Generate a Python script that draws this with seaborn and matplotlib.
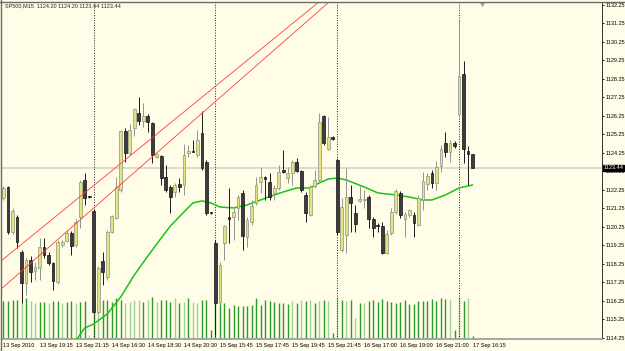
import matplotlib
matplotlib.use("Agg")
import matplotlib.pyplot as plt
import matplotlib.transforms as mtransforms
from matplotlib.lines import Line2D
import numpy as np
import pandas as pd
import seaborn as sns

# SP500 M15 bars, 13 Sep 17:15 .. 17 Sep 16:15
symbol = "SP500,M15"

opens = [1121.82, 1122.41, 1119.98, 1120.79, 1118.90, 1117.22, 1118.47, 1117.87, 1118.03, 1119.17,
         1118.74, 1118.30, 1117.28, 1119.28, 1119.49, 1119.93, 1119.28, 1120.79, 1122.79, 1121.88,
         1121.12, 1115.66, 1118.41, 1117.55, 1119.98, 1120.74, 1122.25, 1125.44, 1124.25, 1125.60,
         1126.41, 1125.98, 1126.25, 1125.87, 1124.03, 1124.09, 1122.95, 1122.41, 1122.14, 1122.57,
         1122.52, 1124.25, 1124.36, 1124.14, 1125.33, 1123.76, 1121.03, 1119.39, 1116.20, 1119.39,
         1120.79, 1120.79, 1121.28, 1122.09, 1119.71, 1120.52, 1121.55, 1122.68, 1122.95, 1122.68,
         1122.09, 1122.36, 1123.33, 1122.90, 1123.17, 1123.76, 1123.28, 1121.98, 1120.90, 1122.47,
         1122.79, 1126.25, 1124.47, 1125.11, 1123.87, 1119.01, 1119.82, 1121.87, 1121.01, 1121.66,
         1121.69, 1121.87, 1120.68, 1120.36, 1120.30, 1118.84, 1119.93, 1121.06, 1122.09, 1120.68,
         1120.90, 1120.90, 1120.36, 1121.71, 1122.57, 1123.17, 1122.63, 1123.55, 1124.79, 1124.30,
         1124.79, 1126.36, 1128.52, 1124.36, 1124.20]
highs = [1122.47, 1122.47, 1121.28, 1120.90, 1119.01, 1118.57, 1118.68, 1118.36, 1119.66, 1119.66,
         1118.90, 1118.36, 1119.55, 1119.55, 1120.09, 1120.03, 1120.68, 1122.79, 1123.17, 1121.93,
         1121.22, 1118.14, 1118.90, 1120.09, 1120.90, 1122.95, 1125.49, 1125.60, 1125.82, 1126.68,
         1127.28, 1126.95, 1126.36, 1125.93, 1124.25, 1124.14, 1123.60, 1122.52, 1122.63, 1122.90,
         1124.74, 1124.68, 1124.95, 1125.49, 1126.52, 1123.87, 1121.06, 1119.55, 1118.36, 1120.36,
         1122.36, 1121.28, 1121.98, 1122.25, 1120.79, 1121.71, 1122.95, 1123.49, 1123.01, 1123.17,
         1122.52, 1123.60, 1124.41, 1123.49, 1123.87, 1123.98, 1123.33, 1122.14, 1122.52, 1123.33,
         1126.41, 1126.30, 1126.20, 1125.17, 1123.98, 1121.82, 1123.44, 1122.52, 1121.44, 1122.47,
         1122.25, 1121.98, 1120.79, 1120.47, 1120.52, 1120.09, 1121.28, 1122.30, 1122.20, 1121.06,
         1121.22, 1121.06, 1121.98, 1123.22, 1123.17, 1123.33, 1123.82, 1124.68, 1125.39, 1124.95,
         1124.90, 1131.44, 1129.22, 1124.63, 1124.20]
lows = [1121.71, 1119.87, 1119.87, 1119.11, 1116.14, 1116.57, 1117.28, 1117.38, 1117.38, 1118.57,
        1118.20, 1116.84, 1117.17, 1119.17, 1119.44, 1118.74, 1119.17, 1120.20, 1121.44, 1121.82,
        1115.60, 1115.55, 1117.12, 1117.38, 1119.93, 1120.68, 1122.14, 1123.76, 1124.14, 1125.17,
        1125.76, 1125.66, 1125.39, 1123.71, 1123.98, 1122.52, 1122.14, 1121.01, 1121.87, 1122.14,
        1121.98, 1124.03, 1124.30, 1124.03, 1123.33, 1120.90, 1120.97, 1114.41, 1116.03, 1118.47,
        1119.39, 1119.55, 1120.63, 1119.01, 1119.17, 1120.36, 1121.44, 1122.09, 1121.71, 1121.71,
        1121.71, 1122.25, 1123.17, 1122.63, 1122.52, 1123.22, 1122.14, 1120.52, 1120.84, 1122.36,
        1122.68, 1124.68, 1124.41, 1124.95, 1119.82, 1118.90, 1118.84, 1119.98, 1119.98, 1121.60,
        1121.28, 1120.20, 1119.71, 1119.98, 1118.79, 1118.79, 1119.82, 1120.95, 1120.74, 1119.71,
        1120.79, 1119.71, 1120.30, 1121.17, 1122.25, 1122.36, 1122.25, 1123.22, 1124.03, 1123.76,
        1124.52, 1126.25, 1123.71, 1122.52, 1123.44]
closes = [1122.36, 1119.98, 1121.12, 1119.44, 1117.22, 1118.47, 1117.82, 1118.09, 1119.17, 1118.74,
          1118.30, 1117.33, 1119.44, 1119.44, 1119.93, 1119.22, 1120.52, 1122.68, 1121.82, 1121.85,
          1115.66, 1118.03, 1117.82, 1119.98, 1120.84, 1122.41, 1125.44, 1124.25, 1125.49, 1126.63,
          1125.98, 1126.25, 1125.93, 1124.14, 1124.20, 1122.90, 1122.25, 1121.87, 1122.52, 1122.41,
          1124.14, 1124.36, 1124.28, 1124.95, 1123.44, 1121.01, 1121.00, 1116.14, 1118.20, 1120.30,
          1120.68, 1121.06, 1121.87, 1119.76, 1120.63, 1121.39, 1122.52, 1122.95, 1122.84, 1121.87,
          1122.36, 1123.22, 1123.22, 1123.17, 1123.76, 1123.28, 1122.25, 1121.01, 1122.41, 1122.79,
          1125.93, 1124.79, 1125.11, 1125.01, 1119.98, 1121.33, 1121.87, 1121.55, 1120.41, 1121.76,
          1121.77, 1120.68, 1120.20, 1120.30, 1118.84, 1119.87, 1121.06, 1122.20, 1120.90, 1120.95,
          1121.17, 1120.47, 1121.82, 1122.74, 1123.01, 1122.63, 1123.49, 1124.47, 1124.30, 1124.79,
          1124.63, 1128.41, 1124.47, 1124.20, 1123.44]

volumes = [380, 380, 390, 390, 360, 410, 380, 360, 370, 370,
           360, 380, 380, 360, 370, 380, 360, 370, 380, 40,
           380, 360, 390, 390, 370, 410, 390, 360, 370, 390,
           390, 370, 390, 420, 370, 390, 390, 370, 410, 360,
           370, 410, 370, 360, 390, 390, 90, 390, 370, 360,
           310, 340, 330, 330, 330, 340, 410, 340, 390, 380,
           370, 360, 360, 350, 380, 360, 390, 380, 390, 360,
           380, 390, 380, 60, 420, 390, 380, 390, 210, 360,
           360, 380, 390, 370, 400, 380, 370, 360, 370, 390,
           350, 350, 380, 380, 380, 400, 380, 410, 400, 400,
           90, 420, 380, 410, 30]
# d = dark green volume bar, l = light green volume bar
volume_shade = ("ddddldllddlddlddlddld"
                "ldddddlllldldldddldldllddd"
                "ddddddddddddddddd" "ldldldldld"
                "ldldldl" "dddddddddddddddddd" "ld"
                "ldld")

# moving average line, read at these bar numbers
ma_bars = [16, 18, 20, 23, 26, 29, 32, 35, 37, 40, 42, 44, 46, 48, 51, 54, 57,
           60, 62, 65, 68, 70, 72, 74, 76, 80, 83, 87, 90, 93, 95, 98, 101, 104]
ma_values = [1114.10, 1114.79, 1115.01, 1115.55, 1116.47, 1117.65, 1118.68, 1119.66, 1120.30,
             1121.06, 1121.55, 1121.66, 1121.55, 1121.33, 1121.28, 1121.44, 1121.71, 1121.98,
             1122.14, 1122.36, 1122.36, 1122.63, 1122.84, 1122.90, 1122.79, 1122.41, 1122.09,
             1121.98, 1121.87, 1121.71, 1121.71, 1121.98, 1122.36, 1122.52]

# trendlines: two anchor points (bar, price)
trend_upper = [(0, 1118.52), (60, 1130.44)]
trend_lower = [(0, 1117.01), (60, 1129.81)]

day_starts = [20, 47, 74, 101]

time_tick_bars = [0, 8, 16, 24, 32, 40, 48, 56, 64, 72, 80, 88, 96, 104]
time_tick_labels = ["13 Sep 2010", "13 Sep 19:15", "13 Sep 21:15", "14 Sep 16:30",
                    "14 Sep 18:30", "14 Sep 20:30", "15 Sep 15:45", "15 Sep 17:45",
                    "15 Sep 19:45", "15 Sep 21:45", "16 Sep 17:00", "16 Sep 19:00",
                    "16 Sep 21:00", "17 Sep 16:15"]
price_ticks = [1114.25, 1115.25, 1116.25, 1117.25, 1118.25, 1119.25, 1120.25, 1121.25,
               1122.25, 1123.25, 1124.25, 1125.25, 1126.25, 1127.25, 1128.25, 1129.25,
               1130.25, 1131.25, 1132.25]

bg = "#fffce8"
sns.set_style("white", rc={"axes.facecolor": bg, "figure.facecolor": bg})
plt.rcParams['font.family'] = ['Liberation Sans', 'DejaVu Sans']

W, H = 625, 351
fig = plt.figure(figsize=(W / 100, H / 100), dpi=100)
ax = fig.add_axes([2 / W, (H - 339) / H, 600 / W, 337 / H])

df = pd.DataFrame({"open": opens, "high": highs, "low": lows, "close": closes,
                   "vol": volumes, "shade": list(volume_shade)})
df["x"] = np.arange(len(df))
df["bull"] = df["close"] >= df["open"]
n = len(df)

ymin, ymax = 1114.196, 1132.41
ax.set_xlim(-0.33, 132.7)
ax.set_ylim(ymin, ymax)

# volumes drawn at the bottom of the price window
vh = df["vol"] / df["vol"].max() * 0.125 * (ymax - ymin)
vcol = np.where(df["shade"] == "d", "#2b9b2b", "#a3d096")
ax.vlines(df["x"], ymin, ymin + vh, colors=vcol, lw=1.0, zorder=1)

ax.axhline(closes[-1], color="#d9d9cc", lw=1.3, zorder=1.5)
for b in day_starts:
    ax.axvline(b, color="#202020", ls=(0, (1, 1.6)), lw=0.7, zorder=2)

sns.lineplot(x=ma_bars, y=ma_values, ax=ax, color="#19c419", linewidth=1.1, zorder=3)

# candles
up = df[df["bull"]]
dn = df[~df["bull"]]
ax.vlines(up["x"], up["low"], up["high"], colors="#8c9890", lw=0.7, zorder=4)
ax.vlines(dn["x"], dn["low"], dn["high"], colors="#1a1a1a", lw=0.7, zorder=4)
body = np.maximum((df["close"] - df["open"]).abs(), 0.05)
bottom = np.minimum(df["open"], df["close"])
fills = np.where(df["bull"], "#e6e27c", "#3c3c3c")
edges = np.where(df["bull"], "#88948c", "#111111")
ax.bar(df["x"], body, bottom=bottom, width=0.62, color=fills, edgecolor=edges,
       linewidth=0.5, zorder=5)

for p1, p2 in (trend_upper, trend_lower):
    ax.axline(p1, p2, color="#ff3c3c", lw=0.6, zorder=6)

# axes look
for side in ("left", "top"):
    ax.spines[side].set_visible(False)
ax.spines["right"].set_color("#303030")
ax.spines["right"].set_linewidth(0.7)
ax.spines["bottom"].set_color("#a0a0a0")
ax.spines["bottom"].set_linewidth(1.3)

ax.yaxis.tick_right()
ax.set_yticks(price_ticks, [f"{p:.2f}" for p in price_ticks])
ax.tick_params(axis="y", length=1.5, width=0.6, pad=1, labelsize=4, colors="black")
ax.set_xticks(time_tick_bars, time_tick_labels)
for t in ax.get_xticklabels():
    t.set_ha("left")
ax.tick_params(axis="x", length=2.2, width=0.6, pad=0.6, labelsize=4, colors="black")
ax.set_xlabel("")
ax.set_ylabel("")

header = f"{symbol}  {opens[-1]:.2f} {highs[-1]:.2f} {lows[-1]:.2f} {closes[-1]:.2f}"
ax.text(0.005, 0.995, header, transform=ax.transAxes, fontsize=4, va="top", ha="left")

trans = mtransforms.blended_transform_factory(ax.transAxes, ax.transData)
ax.text(1.003, closes[-1], f"{closes[-1]:.2f}", transform=trans, color="white",
        fontsize=4, va="center", ha="left", zorder=10, clip_on=False,
        bbox=dict(boxstyle="square,pad=0.12", fc="black", ec="black"))

ax.plot([n + 1], [ymax - 0.12], marker="v", color="#a8a8a8", ms=2.5, clip_on=False)

fig.add_artist(Line2D([0, 1], [1 - 1.5 / H] * 2, color="#6a6a6a", lw=1.0,
                      transform=fig.transFigure))
fig.add_artist(Line2D([1.5 / W] * 2, [0, 1], color="#6a6a6a", lw=1.0,
                      transform=fig.transFigure))

fig.savefig("out.png", dpi=100, facecolor=bg)
